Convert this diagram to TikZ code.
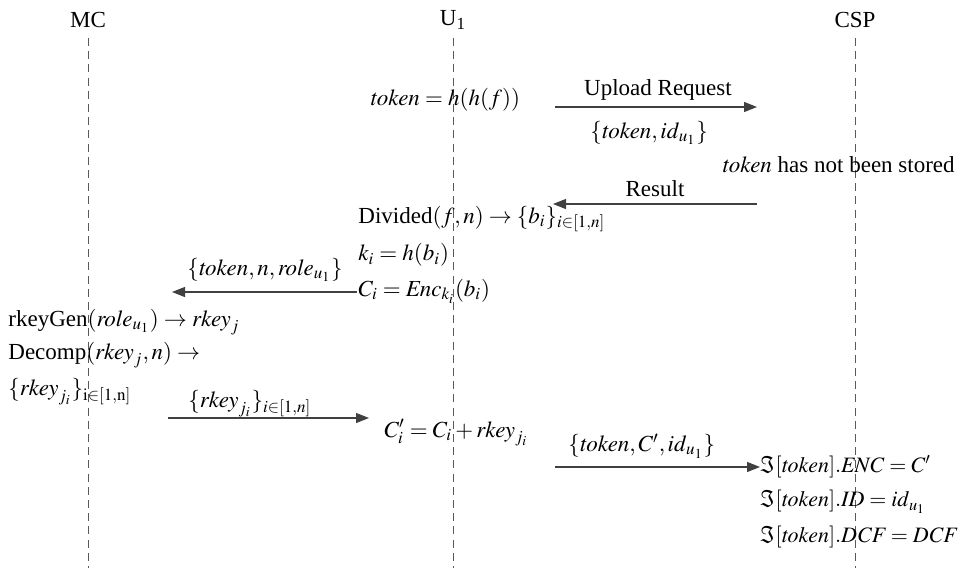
\documentclass[tikz,border=0pt]{standalone}
\usepackage{mathptmx}
\usepackage{fontspec}
\setmainfont{Liberation Serif}
\usetikzlibrary{arrows.meta}
\newcommand{\tk}{\mathit{token}}
\newcommand{\rk}{\mathit{rkey}}
\newcommand{\tighteq}{\thickmuskip=4mu plus 2mu\relax}
\begin{document}
\begin{tikzpicture}[x=0.5pt,y=-0.5pt,
  every node/.style={font=\fontsize{11.5}{14}\selectfont, inner sep=0pt, text=black},
  txt/.style={anchor=west},
  imtxt/.style={anchor=west, font=\fontsize{11}{14}\selectfont},
  title/.style={anchor=center},
  life/.style={draw=black!65, line width=0.5pt, dash pattern=on 4pt off 2.6pt},
  msg/.style={draw=black!75, line width=0.55pt, -{Triangle[length=6.5pt,width=5pt]}}]
\useasboundingbox (0,0) rectangle (963,568);
% titles
\node[title] (mc) at (88,20) {MC};
\node[title] (u1) at (453,20) {U\textsubscript{1}};
\node[title] (csp) at (855,20) {CSP};
% lifelines
\coordinate (mct) at (88,38); \coordinate (mcb) at (88,568);
\coordinate (ut) at (453,38); \coordinate (ub) at (453,568);
\coordinate (ct) at (855,38); \coordinate (cb) at (855,568);
\draw[life] (mct) -- (mcb);
\draw[life] (ut) -- (ub);
\draw[life] (ct) -- (cb);
% step 1
\node[txt] (tok) at (370,100) {$\tk = h(h(f))$};
\coordinate (a1s) at (555,107); \coordinate (a1e) at (757,107);
\draw[msg] (a1s) -- (a1e);
\node[title] (upl) at (658,90) {Upload Request};
\node[txt] (tid) at (590,133) {$\{\tk, \mathit{id}_{u_1}\}$};
\node[txt] (nst) at (722,165) {$\tk$ has not been stored};
% result
\coordinate (a2s) at (757,204); \coordinate (a2e) at (553,204);
\draw[msg] (a2s) -- (a2e);
\node[title] (res) at (655,189) {Result};
\node[txt] (div) at (358,219) {Divided$(f,n)\rightarrow\{b_i\}_{i\in[1,n]}$};
\node[txt] (ki) at (358,255) {$k_i = h(b_i)$};
\node[txt] (ci) at (358,291) {$C_i = \mathit{Enc}_{k_i}(b_i)$};
% to MC
\coordinate (a3s) at (357,292); \coordinate (a3e) at (172,292);
\draw[msg] (a3s) -- (a3e);
\node[title] (tnr) at (265,270) {$\{\tk, n, \mathit{role}_{u_1}\}$};
\node[txt] (rkg) at (8,322) {rkeyGen$(\mathit{role}_{u_1})\rightarrow \rk_j$};
\node[txt] (dec) at (8,355) {Decomp$(\rk_j, n)\rightarrow$};
\node[txt] (rkj) at (8,392) {$\{\rk_{j_i}\}_{\mathrm{i\in[1,n]}}$};
% to U1
\coordinate (a4s) at (168,418); \coordinate (a4e) at (369,418);
\draw[msg] (a4s) -- (a4e);
\node[txt] (rkl) at (188,404) {$\{\rk_{j_i}\}_{i\in[1,n]}$};
\node[txt] (cpi) at (384,433) {$C'_i = C_i + \rk_{j_i}$};
% to CSP
\coordinate (a5s) at (555,467); \coordinate (a5e) at (760,467);
\draw[msg] (a5s) -- (a5e);
\node[txt] (tci) at (568,446) {$\{\tk, C', \mathit{id}_{u_1}\}$};
\node[imtxt] (enc) at (760,467) {$\tighteq\Im[\tk].\mathit{ENC} = C'$};
\node[imtxt] (idd) at (760,502) {$\tighteq\Im[\tk].\mathit{ID} = \mathit{id}_{u_1}$};
\node[imtxt] (dcf) at (760,537) {$\tighteq\Im[\tk].\mathit{DCF} = \mathit{DCF}$};
\end{tikzpicture}
\end{document}
